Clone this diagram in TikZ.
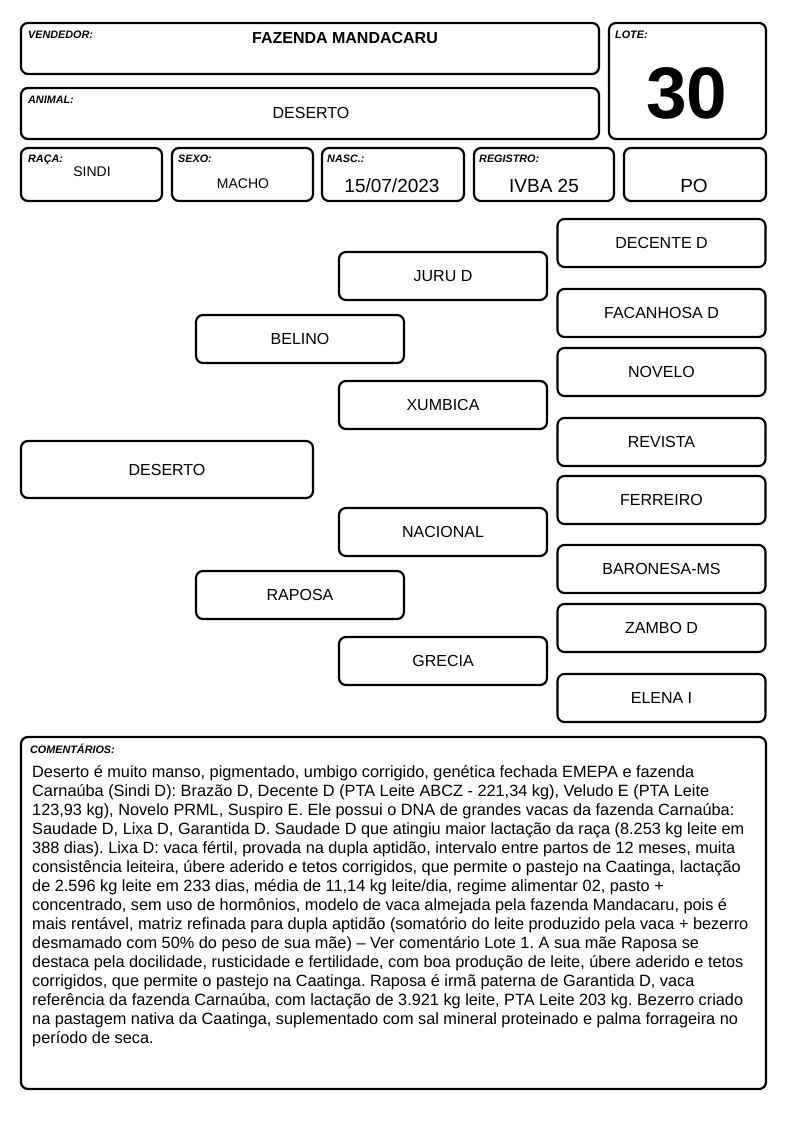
\documentclass[tikz,border=0pt]{standalone}
\usepackage{fontspec}
\setmainfont{Liberation Sans}
\usetikzlibrary{positioning}

\begin{document}
\begin{tikzpicture}[
    x=1pt, y=-1pt,
    cell/.style={draw, line width=2.2pt, rounded corners=7pt, inner sep=0pt},
    tag/.style={font=\fontsize{10.8}{11}\selectfont\bfseries\itshape, anchor=north west, inner sep=0pt},
    val/.style={font=\fontsize{14}{16}\selectfont, inner sep=0pt, text depth=0pt},
    big/.style={font=\fontsize{19}{21}\selectfont, inner sep=0pt, text depth=0pt},
    ped/.style={cell, minimum width=208pt, minimum height=48pt, font=\fontsize{16}{18}\selectfont},
  ]
  \useasboundingbox (0,0) rectangle (794,1123);
  % header
  \node[cell, minimum width=578pt, minimum height=51pt] (vend) at (310,48.5) {};
  \node[cell, minimum width=157pt, minimum height=116pt] (lote) at (687.5,81) {};
  \node[cell, minimum width=578pt, minimum height=51pt] (anim) at (310,113.5) {};
  \node[cell, minimum width=141pt, minimum height=53pt] (raca) at (91.5,174.5) {};
  \node[cell, minimum width=141pt, minimum height=53pt] (sexo) at (242.5,174.5) {};
  \node[cell, minimum width=142pt, minimum height=53pt] (nasc) at (393,174.5) {};
  \node[cell, minimum width=140pt, minimum height=53pt] (regi) at (544,174.5) {};
  \node[cell, minimum width=142pt, minimum height=53pt] (cat) at (695,174.5) {};
  \node[tag] at (28,31) {VENDEDOR:};
  \node[tag] at (615,31) {LOTE:};
  \node[tag] at (28,96) {ANIMAL:};
  \node[tag] at (28,155) {RAÇA:};
  \node[tag] at (178,155) {SEXO:};
  \node[tag] at (327,155) {NASC.:};
  \node[tag] at (479,155) {REGISTRO:};
  \node[val, font=\fontsize{16}{18}\selectfont\bfseries] at (345,38) {FAZENDA MANDACARU};
  \node[inner sep=0pt, text depth=0pt, font=\fontsize{73}{73}\selectfont\bfseries] at (687,93) {30};
  \node[val, font=\fontsize{16}{18}\selectfont] at (311,113) {DESERTO};
  \node[val] at (92,172) {SINDI};
  \node[val] at (243,184) {MACHO};
  \node[big] at (392,186) {15/07/2023};
  \node[big] at (544,186) {IVBA 25};
  \node[big] at (694,186) {PO};
  % pedigree
  \node[ped, minimum width=292pt, minimum height=57pt] (animal) at (167,469.5) {DESERTO};
  \node[ped] (pai) at (300,339) {BELINO};
  \node[ped] (mae) at (300,595) {RAPOSA};
  \node[ped] (avo1) at (443,276) {JURU D};
  \node[ped] (avo2) at (443,405) {XUMBICA};
  \node[ped] (avo3) at (443,532) {NACIONAL};
  \node[ped] (avo4) at (443,661) {GRECIA};
  \node[ped] (bis1) at (661.5,243) {DECENTE D};
  \node[ped] (bis2) at (661.5,313) {FACANHOSA D};
  \node[ped] (bis3) at (661.5,372) {NOVELO};
  \node[ped] (bis4) at (661.5,442) {REVISTA};
  \node[ped] (bis5) at (661.5,500) {FERREIRO};
  \node[ped] (bis6) at (661.5,569) {BARONESA-MS};
  \node[ped] (bis7) at (661.5,628) {ZAMBO D};
  \node[ped] (bis8) at (661.5,698) {ELENA I};
  % comments
  \node[cell, minimum width=745pt, minimum height=352pt] (coment) at (393.5,913) {};
  \node[tag] at (30,744) {COMENTÁRIOS:};
  \node[anchor=north west, inner sep=0pt, align=left, font=\fontsize{16.3}{19}\selectfont\frenchspacing] (texto) at (32,765.5) {%
    Deserto é muito manso, pigmentado, umbigo corrigido, genética fechada EMEPA e fazenda\\
    Carnaúba (Sindi D): Brazão D, Decente D (PTA Leite ABCZ - 221,34 kg), Veludo E (PTA Leite\\
    123,93 kg), Novelo PRML, Suspiro E. Ele possui o DNA de grandes vacas da fazenda Carnaúba:\\
    Saudade D, Lixa D, Garantida D. Saudade D que atingiu maior lactação da raça (8.253 kg leite em\\
    388 dias). Lixa D: vaca fértil, provada na dupla aptidão, intervalo entre partos de 12 meses, muita\\
    consistência leiteira, úbere aderido e tetos corrigidos, que permite o pastejo na Caatinga, lactação\\
    de 2.596 kg leite em 233 dias, média de 11,14 kg leite/dia, regime alimentar 02, pasto +\\
    concentrado, sem uso de hormônios, modelo de vaca almejada pela fazenda Mandacaru, pois é\\
    mais rentável, matriz refinada para dupla aptidão (somatório do leite produzido pela vaca + bezerro\\
    desmamado com 50\% do peso de sua mãe) – Ver comentário Lote 1. A sua mãe Raposa se\\
    destaca pela docilidade, rusticidade e fertilidade, com boa produção de leite, úbere aderido e tetos\\
    corrigidos, que permite o pastejo na Caatinga. Raposa é irmã paterna de Garantida D, vaca\\
    referência da fazenda Carnaúba, com lactação de 3.921 kg leite, PTA Leite 203 kg. Bezerro criado\\
    na pastagem nativa da Caatinga, suplementado com sal mineral proteinado e palma forrageira no\\
    período de seca.};
\end{tikzpicture}
\end{document}
